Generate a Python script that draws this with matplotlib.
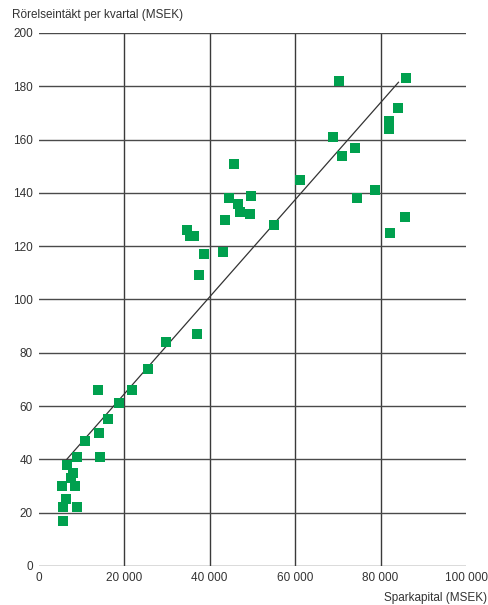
import matplotlib
matplotlib.use('Agg')
import matplotlib.pyplot as plt
from matplotlib.ticker import FuncFormatter

plt.rcParams['font.family'] = ['Liberation Sans', 'DejaVu Sans']

# sparkapital (MSEK) vs rörelseintäkt per kvartal (MSEK)
sparkapital = [86000, 70300, 84100, 82000, 82000, 68900, 74000, 71000, 78700, 74500,
               85700, 82200, 61200, 45700, 44600, 46700, 47100, 49500, 49700, 43600,
               55100, 34700, 35400, 36400, 38700, 43200, 37500, 37100, 29800, 25700,
               14000, 21900, 18800, 16300, 14200, 10950, 9100, 14500, 6600, 8150,
               7500, 5400, 8500, 6400, 5800, 8900, 5800]
intakt = [183, 182, 172, 167, 164, 161, 157, 154, 141, 138,
          131, 125, 145, 151, 138, 136, 133, 132, 139, 130,
          128, 126, 124, 124, 117, 118, 109, 87, 84, 74,
          66, 66, 61, 55, 50, 47, 41, 41, 38, 35,
          33, 30, 30, 25, 22, 22, 17]

# trendlinjens ändpunkter
trend_x = [6600, 84200]
trend_y = [40, 181.5]

fig = plt.figure(figsize=(4.88, 6.05), dpi=100)
ax = fig.add_axes([0.0789, 0.0645, 0.8761, 0.881])

ax.set_xlim(0, 100000)
ax.set_ylim(0, 200)
ax.set_xticks(range(0, 100001, 20000))
ax.set_yticks(range(0, 201, 20))

for v in range(20000, 100000, 20000):
    ax.axvline(v, color='#3a3a3a', lw=1.0, zorder=1)
for v in range(0, 201, 20):
    ax.axhline(v, color='#4a4a4a', lw=1.0, zorder=1)

ax.plot(trend_x, trend_y, color='#333333', lw=0.9, zorder=2)
ax.scatter(sparkapital, intakt, marker='s', s=62, color='#00A04E', linewidths=0, zorder=3)

for s in ax.spines.values():
    s.set_visible(False)
ax.tick_params(length=0, labelsize=8.5, colors='#333333', pad=4)
ax.xaxis.set_major_formatter(FuncFormatter(lambda v, p: f'{int(v):,}'.replace(',', ' ')))

fig.text(12 / 488, 1 - 15 / 605, 'Rörelseintäkt per kvartal (MSEK)', fontsize=8.5,
         color='#333333', ha='left', va='center')
fig.text(487 / 488, 1 - 598 / 605, 'Sparkapital (MSEK)', fontsize=8.5,
         color='#333333', ha='right', va='center')

fig.savefig('out.png', dpi=100)
